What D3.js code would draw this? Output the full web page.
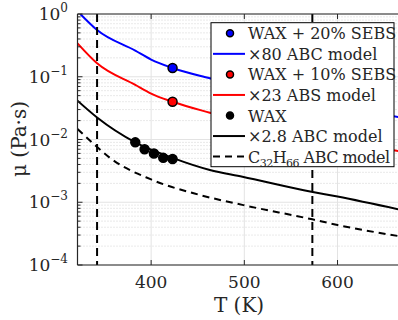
<!DOCTYPE html>
<html>
<head>
<meta charset="utf-8">
<script src="https://cdn.jsdelivr.net/npm/d3@7"></script>
<style>
  body { margin: 0; background: #fff; }
  svg text { fill: #262626; }
</style>
</head>
<body>
<script>
// data
var blueT  = [324, 342, 383, 400, 423, 463, 665];
var blueMu = [1.0, 0.556, 0.261, 0.188, 0.138, 0.0945, 0.0228];
var redT   = [321, 342, 383, 400, 423, 463, 665];
var redMu  = [0.341, 0.164, 0.0742, 0.054, 0.040, 0.0267, 0.00656];
var blackT  = [321, 342, 383, 423, 463, 498, 572, 600, 665];
var blackMu = [0.0415, 0.0224, 0.0090, 0.0051, 0.00327, 0.00255, 0.00147, 0.00123, 0.00077];
var dashT  = [321, 342, 356, 400, 452, 499, 573, 600, 665];
var dashMu = [0.0147, 0.0076, 0.00507, 0.00231, 0.00131, 0.00090, 0.000534, 0.000434, 0.00029];

var pt20T = [423], pt20Mu = [0.138];
var pt10T = [423], pt10Mu = [0.040];
var waxT  = [383, 393, 403, 413, 423];
var waxMu = [0.0090, 0.0070, 0.0060, 0.0051, 0.0049];

var vlines = [342, 573];
var xTicks = [400, 500, 600];
var yExps = [0, -1, -2, -3, -4];

var legendItems = [
  {type: 'dot', color: 'blue', label: 'WAX + 20% SEBS'},
  {type: 'line', color: 'blue', label: '×80 ABC model'},
  {type: 'dot', color: 'red', label: 'WAX + 10% SEBS'},
  {type: 'line', color: 'red', label: '×23 ABS model'},
  {type: 'dot', color: 'black', label: 'WAX'},
  {type: 'line', color: 'black', label: '×2.8 ABC model'},
  {type: 'dash', color: 'black', label: 'C32H66 ABC model'}
];

var width = 398, height = 320;
var pLeft = 77.5, pRight = 398.1, pTop = 14, pBottom = 265;

var svg = d3.select('body').append('svg')
  .attr('width', width)
  .attr('height', height)
  .attr('font-family', '"DejaVu Serif", "Liberation Serif", serif');

var x = d3.scaleLinear().domain([321, 665]).range([pLeft, pRight]);
var y = d3.scaleLog().domain([1e-4, 1]).range([pBottom, pTop]);

svg.append('clipPath').attr('id', 'clip')
  .append('rect')
  .attr('x', pLeft).attr('y', pTop)
  .attr('width', pRight - pLeft).attr('height', pBottom - pTop);

/* grid */
var minor = [];
yExps.slice(1).forEach(function(e) {
  for (var k = 2; k <= 9; k++) minor.push(k * Math.pow(10, e));
});
svg.append('g').selectAll('line')
  .data(minor).enter().append('line')
  .attr('x1', pLeft).attr('x2', pRight)
  .attr('y1', d => y(d)).attr('y2', d => y(d))
  .style('stroke', '#c8c8c8')
  .style('stroke-width', 0.8)
  .style('stroke-dasharray', '1,2');
svg.append('g').selectAll('line')
  .data(yExps).enter().append('line')
  .attr('x1', pLeft).attr('x2', pRight)
  .attr('y1', d => y(Math.pow(10, d))).attr('y2', d => y(Math.pow(10, d)))
  .style('stroke', '#e3e3e3')
  .style('stroke-width', 1);
svg.append('g').selectAll('line')
  .data(xTicks).enter().append('line')
  .attr('x1', d => x(d)).attr('x2', d => x(d))
  .attr('y1', pTop).attr('y2', pBottom)
  .style('stroke', '#e3e3e3')
  .style('stroke-width', 1);

/* curves */
var plot = svg.append('g').attr('clip-path', 'url(#clip)');

var line = d3.line()
  .x(d => x(d[0]))
  .y(d => y(d[1]))
  .curve(d3.curveMonotoneX);

function curve(ts, mus, color, dash) {
  plot.append('path')
    .attr('d', line(d3.zip(ts, mus)))
    .style('fill', 'none')
    .style('stroke', color)
    .style('stroke-width', 2)
    .style('stroke-dasharray', dash || null);
}
curve(blueT, blueMu, '#0000ff');
curve(redT, redMu, '#ff0000');
curve(blackT, blackMu, '#000');
curve(dashT, dashMu, '#000', '7,5');

plot.selectAll('.vline')
  .data(vlines).enter().append('line')
  .attr('class', 'vline')
  .attr('x1', d => x(d)).attr('x2', d => x(d))
  .attr('y1', pTop).attr('y2', pBottom)
  .style('stroke', '#000')
  .style('stroke-width', 2)
  .style('stroke-dasharray', '8,5');

function dots(ts, mus, fill) {
  plot.append('g').selectAll('circle')
    .data(d3.zip(ts, mus)).enter().append('circle')
    .attr('cx', d => x(d[0]))
    .attr('cy', d => y(d[1]))
    .attr('r', 4.5)
    .style('fill', fill)
    .style('stroke', '#000')
    .style('stroke-width', 1.5);
}
dots(pt20T, pt20Mu, '#0000ff');
dots(pt10T, pt10Mu, '#ff0000');
dots(waxT, waxMu, '#000');

/* axes box + ticks */
var axis = svg.append('g').style('stroke', '#262626');
axis.append('line').attr('x1', pLeft).attr('x2', pLeft).attr('y1', pTop).attr('y2', pBottom).style('stroke-width', 1.2);
axis.append('line').attr('x1', pLeft).attr('x2', pRight).attr('y1', pBottom).attr('y2', pBottom).style('stroke-width', 1.2);
axis.append('line').attr('x1', pLeft).attr('x2', pRight).attr('y1', pTop).attr('y2', pTop).style('stroke-width', 1.2);

axis.selectAll('.ymaj')
  .data(yExps).enter().append('line')
  .attr('x1', pLeft).attr('x2', pLeft + 5)
  .attr('y1', d => y(Math.pow(10, d))).attr('y2', d => y(Math.pow(10, d)));
axis.selectAll('.ymin')
  .data(minor).enter().append('line')
  .attr('x1', pLeft).attr('x2', pLeft + 3)
  .attr('y1', d => y(d)).attr('y2', d => y(d));
xTicks.forEach(function(t) {
  axis.append('line').attr('x1', x(t)).attr('x2', x(t)).attr('y1', pBottom).attr('y2', pBottom - 5);
  axis.append('line').attr('x1', x(t)).attr('x2', x(t)).attr('y1', pTop).attr('y2', pTop + 5);
});

svg.selectAll('.xlab')
  .data(xTicks).enter().append('text')
  .attr('x', d => x(d))
  .attr('y', 288)
  .attr('text-anchor', 'middle')
  .style('font-size', '17px')
  .text(d => d);

var ylab = svg.selectAll('.ylab')
  .data(yExps).enter().append('text')
  .attr('x', 68)
  .attr('y', d => y(Math.pow(10, d)) + 6)
  .attr('text-anchor', 'end')
  .style('font-size', '17px');
ylab.append('tspan').text('10');
ylab.append('tspan')
  .attr('dy', -8)
  .style('font-size', '12px')
  .text(d => d === 0 ? '0' : '\u2212' + (-d));

svg.append('text')
  .attr('x', 239).attr('y', 312)
  .attr('text-anchor', 'middle')
  .style('font-size', '20px')
  .text('T (K)');
svg.append('text')
  .attr('transform', 'translate(26,139) rotate(-90)')
  .attr('text-anchor', 'middle')
  .style('font-size', '20px')
  .text('μ (Pa·s)');

/* legend */
var lg = svg.append('g');
lg.append('rect')
  .attr('x', 211).attr('y', 22.7)
  .attr('width', 183).attr('height', 144)
  .style('fill', '#fff')
  .style('stroke', '#000')
  .style('stroke-width', 1);

legendItems.forEach(function(it, i) {
  var ly = 33.3 + i * 20.55;
  if (it.type === 'dot') {
    lg.append('circle').attr('cx', 230).attr('cy', ly).attr('r', 3.5)
      .style('fill', it.color).style('stroke', '#000').style('stroke-width', 1.5);
  } else {
    lg.append('line').attr('x1', 213).attr('x2', 245).attr('y1', ly).attr('y2', ly)
      .style('stroke', it.color).style('stroke-width', 2)
      .style('stroke-dasharray', it.type === 'dash' ? '7,5' : null);
  }
  var t = lg.append('text').attr('x', 248).attr('y', ly + 6)
    .attr('textLength', it.type === 'dash' ? 142 : null)
    .style('font-size', '16px');
  if (it.label.indexOf('C32H66') === 0) {
    t.append('tspan').text('C');
    t.append('tspan').attr('dy', 4).style('font-size', '11px').text('32');
    t.append('tspan').attr('dy', -4).text('H');
    t.append('tspan').attr('dy', 4).style('font-size', '11px').text('66');
    t.append('tspan').attr('dy', -4).text(' ABC model');
  } else {
    t.text(it.label);
  }
});
</script>
</body>
</html>
